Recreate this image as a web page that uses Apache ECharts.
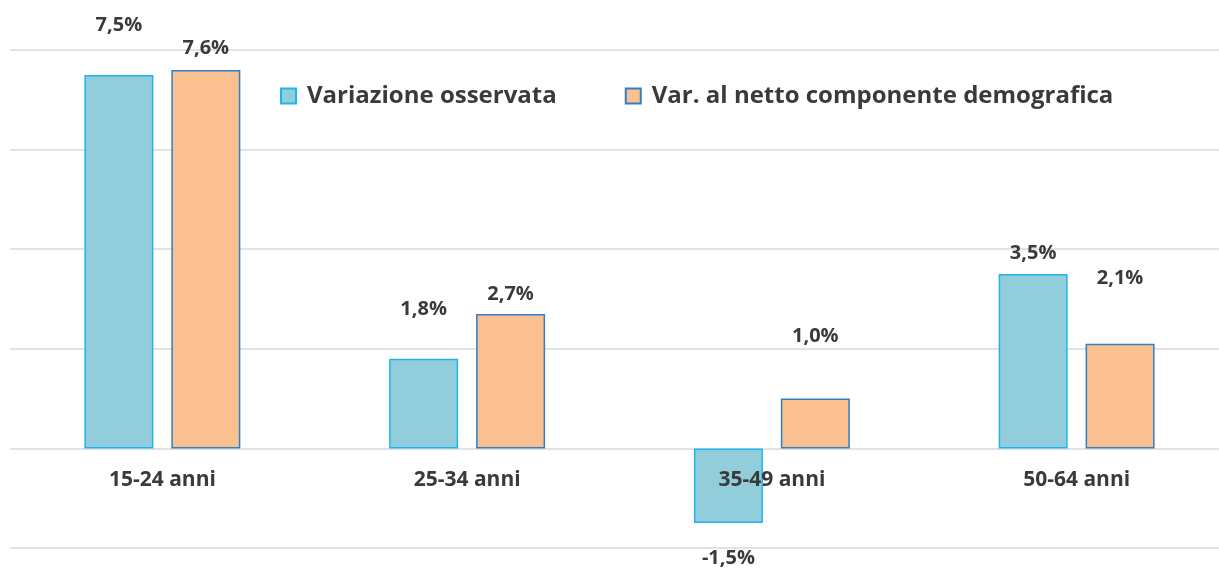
<!DOCTYPE html>
<html>
<head>
<meta charset="utf-8">
<script src="https://cdn.jsdelivr.net/npm/echarts@6/dist/echarts.min.js"></script>
<style>
  html, body { margin: 0; padding: 0; background: #fff; }
  #chart { width: 1219px; height: 569px; }
</style>
</head>
<body>
<div id="chart"></div>
<script>
// age groups and the two series (percent)
const categories = ['15-24 anni', '25-34 anni', '35-49 anni', '50-64 anni'];
const osservata = [7.5, 1.8, -1.5, 3.5];
const alNetto = [7.6, 2.7, 1.0, 2.1];
const seriesNames = ['Variazione osservata', 'Var. al netto componente demografica'];

// label distance above the bars, as in the original picture
const gapOsservata = [40, 39, 25, 11];
const gapNetto = [12, 10, 52, 56];

const textColor = '#3a3a3a';
const font = '"Open Sans", "DejaVu Sans", sans-serif';

function fmt(p) {
    return p.value.toFixed(1).replace('.', ',') + '%';
}

function buildData(values, gaps) {
    return values.map((v, i) => ({
        value: v,
        label: {position: v < 0 ? 'bottom' : 'top', distance: gaps[i]}
    }));
}

const chart = echarts.init(document.getElementById('chart'));
chart.setOption({
    animation: false,
    textStyle: {fontFamily: font},
    grid: {left: 10, right: -10, top: 50, bottom: 21, containLabel: false, outerBoundsMode: 'none'},
    legend: {
        left: 275,
        top: 79,
        itemWidth: 15,
        itemHeight: 15,
        itemGap: 68,
        icon: 'rect',
        textStyle: {fontSize: 24, fontWeight: 'bold', color: textColor, fontFamily: font, padding: [0, 0, 0, 6]}
    },
    xAxis: {
        type: 'category',
        data: categories,
        z: 5,
        position: 'bottom',
        // lift the labels from the -2 line up to the zero line (2 steps of ~49.8px)
        offset: -99.6,
        axisLine: {show: false, onZero: false},
        axisTick: {show: false},
        axisLabel: {
            margin: 21,
            fontSize: 21,
            fontWeight: 'bold',
            color: textColor,
            fontFamily: font
        }
    },
    yAxis: {
        type: 'value',
        min: -2,
        max: 8,
        interval: 2,
        axisLabel: {show: false},
        axisLine: {show: false},
        axisTick: {show: false},
        splitLine: {lineStyle: {color: '#d9d9d9', width: 1.5}}
    },
    series: [
        {
            name: seriesNames[0],
            type: 'bar',
            barWidth: 69,
            barGap: '26%',
            data: buildData(osservata, gapOsservata),
            itemStyle: {color: '#92CDDC', borderColor: '#1FB4EE', borderWidth: 1.5},
            label: {
                show: true,
                fontSize: 20,
                fontWeight: 'bold',
                color: textColor,
                fontFamily: font,
                formatter: fmt
            }
        },
        {
            name: seriesNames[1],
            type: 'bar',
            barWidth: 69,
            data: buildData(alNetto, gapNetto),
            itemStyle: {color: '#FAC090', borderColor: '#2E7FC6', borderWidth: 1.5},
            label: {
                show: true,
                fontSize: 20,
                fontWeight: 'bold',
                color: textColor,
                fontFamily: font,
                formatter: fmt
            }
        }
    ]
});
</script>
</body>
</html>
